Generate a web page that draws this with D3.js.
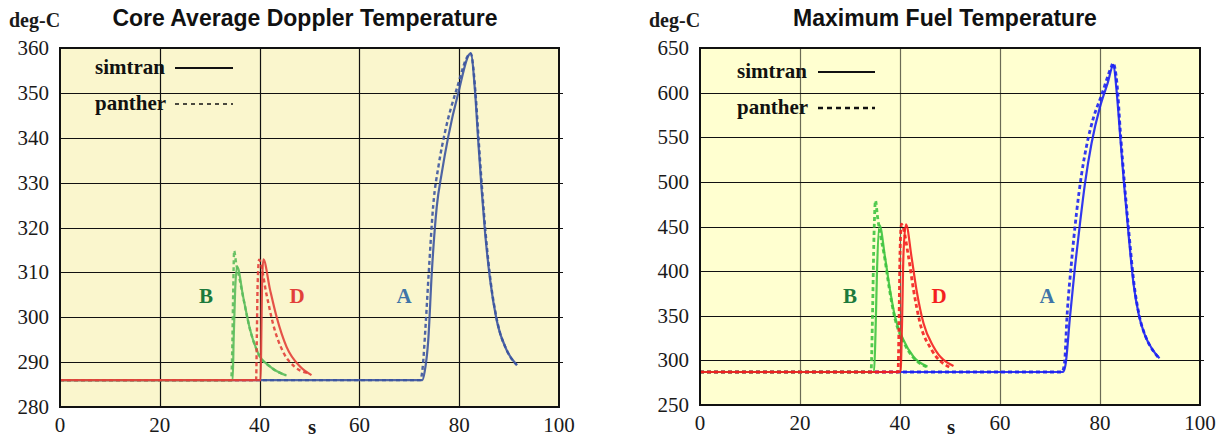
<!DOCTYPE html>
<html>
<head>
<meta charset="utf-8">
<script src="https://cdn.jsdelivr.net/npm/d3@7"></script>
<style>
  body { margin: 0; background: #fff; }
  svg { display: block; }
  .title { font-family: "Liberation Sans", Arial, sans-serif; font-weight: bold; font-size: 23px; fill: #111; }
  .serif { font-family: "Liberation Serif", "Times New Roman", serif; }
</style>
</head>
<body>
<svg id="chart" width="1227" height="439"></svg>
<script>
(function () {
    // axis ticks
    var timeTicks = [0, 20, 40, 60, 80, 100];
    var dopplerTicks = [280, 290, 300, 310, 320, 330, 340, 350, 360];
    var fuelTicks = [250, 300, 350, 400, 450, 500, 550, 600, 650];

    // core average doppler temperature, [s, deg-C]
    var dopA_simtran = [[0, 286], [72.6, 286], [73.1, 288], [73.8, 294.9], [74.5, 309.8], [75.5, 324.6], [76.5, 332.1],
        [77.8, 340.2], [79.8, 349.9], [82.3, 358.8], [83.2, 349.9], [83.8, 339.5], [84.5, 328.4], [85.2, 318.7],
        [86.2, 308.3], [87.5, 299.4], [89.5, 292.7], [91.5, 289.4]];
    var dopA_panther = [[0, 286], [72.2, 286], [72.7, 289], [73.2, 297], [73.9, 310], [74.8, 325], [75.9, 334],
        [77.2, 341.5], [79.4, 350.5], [82.3, 358.8], [83.3, 349.5], [83.9, 339.5], [84.6, 328.4], [85.3, 318.7],
        [86.3, 308], [87.6, 299.2], [89.6, 292.5], [91.6, 289.3]];
    var dopB_simtran = [[0, 286], [34.6, 286], [34.8, 295], [35.1, 306], [35.5, 311.3], [36.7, 304.6], [38.1, 297.2],
        [39.7, 292], [42.1, 289], [45.4, 287]];
    var dopB_panther = [[0, 286], [34.3, 286], [34.5, 292], [34.7, 305], [34.9, 314.8], [35.3, 312], [35.9, 309],
        [36.7, 304.5], [38.1, 297.2], [39.7, 292], [42.1, 289], [45.2, 287.1]];
    var dopD_simtran = [[0, 286], [40.2, 286], [40.35, 296], [40.5, 308], [40.75, 312.9], [42.1, 306.1], [43.4, 300.1],
        [45.4, 293.4], [48.1, 289], [50.4, 287.1]];
    var dopD_panther = [[0, 286], [39.3, 286], [39.45, 296], [39.6, 307], [39.9, 312.8], [41.4, 305], [42.7, 298.5],
        [44.7, 292.3], [47, 289], [49.8, 287.5]];

    // maximum fuel temperature, [s, deg-C]
    var fuelA_simtran = [[0, 287], [72.6, 287], [73.1, 295], [74, 349], [75, 405], [76, 453.6], [77, 498.4],
        [78.3, 543], [80, 584], [81.5, 610], [82.7, 631], [83.3, 603], [84, 554], [84.8, 498], [85.7, 442],
        [86.7, 386], [87.8, 350], [89, 328], [90.5, 312], [91.9, 302.3]];
    var fuelA_panther = [[0, 287], [72.4, 287], [72.9, 297], [73.4, 349], [74.3, 410], [75.3, 465], [76.3, 508],
        [77.3, 540], [78.7, 572], [80.3, 597], [82.2, 628], [82.6, 633], [83.4, 610], [84.1, 554], [84.9, 498],
        [85.8, 442], [86.8, 386], [87.9, 349], [89.1, 327], [90.6, 311], [91.9, 302]];
    var fuelB_simtran = [[0, 287], [34.8, 287], [35.1, 330], [35.4, 400], [35.9, 451.7], [37, 416], [38, 379],
        [39, 349], [40.7, 322.8], [42.7, 304], [45.5, 293]];
    var fuelB_panther = [[0, 287], [34.2, 287], [34.5, 350], [34.8, 440], [35.1, 479], [35.5, 461], [36.1, 440],
        [36.9, 416], [37.9, 379], [38.9, 349], [40.6, 322], [42.6, 303.5], [45.3, 292.8]];
    var fuelD_simtran = [[0, 287], [40.1, 287], [40.4, 340], [40.7, 420], [41.2, 452.5], [42.3, 416], [43.3, 379],
        [44.7, 341.5], [46.7, 315.3], [50.7, 293.7]];
    var fuelD_panther = [[0, 287], [39.6, 287], [39.8, 340], [40, 420], [40.3, 452.5], [41.7, 416], [42.7, 379],
        [44, 342], [46.3, 312], [50, 292]];

    var svg = d3.select('#chart');

    var panels = [
        {
            title: 'Core Average Doppler Temperature', titleX: 305,
            left: 60, right: 559, top: 48, bottom: 407,
            yDomain: [280, 360], yTicks: dopplerTicks,
            bg: '#faf6cd', vGrid: '#111', hGrid: '#111',
            colors: { A: '#3b54a0', B: '#5bbd5b', D: '#e2403a' },
            labelColors: { A: '#3f75a8', B: '#1c7a3c', D: '#e2403a' },
            series: [
                { key: 'A', simtran: dopA_simtran, panther: dopA_panther },
                { key: 'B', simtran: dopB_simtran, panther: dopB_panther },
                { key: 'D', simtran: dopD_simtran, panther: dopD_panther }
            ],
            letters: { B: [206, 303], D: [297, 303], A: [404, 303] },
            legendX: 95, legendLine: [175, 233], legendY: [68, 104],
            legendDash: '4,4', legendDashW: 1.5, dashW: 2.4,
            sX: 312
        },
        {
            title: 'Maximum Fuel Temperature', titleX: 945,
            left: 700, right: 1200, top: 48, bottom: 405,
            yDomain: [250, 650], yTicks: fuelTicks,
            bg: '#ffffd0', vGrid: '#6b6b55', hGrid: '#111',
            colors: { A: '#1c22f2', B: '#3fc43f', D: '#f41f1f' },
            labelColors: { A: '#3f75a8', B: '#1c7a3c', D: '#f41f1f' },
            series: [
                { key: 'A', simtran: fuelA_simtran, panther: fuelA_panther },
                { key: 'B', simtran: fuelB_simtran, panther: fuelB_panther },
                { key: 'D', simtran: fuelD_simtran, panther: fuelD_panther }
            ],
            letters: { B: [850, 303], D: [939, 303], A: [1047, 303] },
            legendX: 737, legendLine: [818, 875], legendY: [72, 108],
            legendDash: '5,4', legendDashW: 2.4, dashW: 2.8,
            sX: 951
        }
    ];

    panels.forEach(function (p) {
        var x = d3.scaleLinear().domain([0, 100]).range([p.left, p.right]);
        var y = d3.scaleLinear().domain(p.yDomain).range([p.bottom, p.top]);
        var g = svg.append('g');

        g.append('rect')
            .attr('x', p.left).attr('y', p.top)
            .attr('width', p.right - p.left).attr('height', p.bottom - p.top)
            .attr('fill', p.bg);

        // grid
        g.selectAll('.vgrid').data(timeTicks.slice(1, -1)).enter().append('line')
            .attr('x1', function (d) { return Math.round(x(d)) + 0.5; })
            .attr('x2', function (d) { return Math.round(x(d)) + 0.5; })
            .attr('y1', p.top).attr('y2', p.bottom)
            .attr('stroke', p.vGrid).attr('stroke-width', 1.2);
        g.selectAll('.hgrid').data(p.yTicks.slice(1, -1)).enter().append('line')
            .attr('y1', function (d) { return Math.round(y(d)) + 0.5; })
            .attr('y2', function (d) { return Math.round(y(d)) + 0.5; })
            .attr('x1', p.left).attr('x2', p.right + 4)
            .attr('stroke', p.hGrid).attr('stroke-width', 1.2);

        // curves
        var line = d3.line()
            .x(function (d) { return x(d[0]); })
            .y(function (d) { return y(d[1]); })
            .curve(d3.curveMonotoneX);
        p.series.forEach(function (s) {
            g.append('path').datum(s.panther)
                .attr('d', line).attr('fill', 'none')
                .attr('stroke', p.colors[s.key]).attr('stroke-width', p.dashW)
                .attr('stroke-dasharray', '4,3').attr('opacity', 0.9);
            g.append('path').datum(s.simtran)
                .attr('d', line).attr('fill', 'none')
                .attr('stroke', p.colors[s.key]).attr('stroke-width', 2.2)
                .attr('opacity', 0.9);
        });

        // frame
        g.append('rect')
            .attr('x', p.left).attr('y', p.top)
            .attr('width', p.right - p.left).attr('height', p.bottom - p.top)
            .attr('fill', 'none').attr('stroke', '#111').attr('stroke-width', 2);

        // axes labels
        g.selectAll('.ytick').data(p.yTicks).enter().append('text')
            .attr('class', 'serif')
            .attr('x', p.left - 11).attr('y', function (d) { return y(d) + 7; })
            .attr('text-anchor', 'end').attr('font-size', 21).attr('fill', '#1a1a1a')
            .text(function (d) { return d; });
        g.selectAll('.xtick').data(timeTicks).enter().append('text')
            .attr('class', 'serif')
            .attr('x', function (d) { return x(d); }).attr('y', p.bottom + 25)
            .attr('text-anchor', 'middle').attr('font-size', 21).attr('fill', '#1a1a1a')
            .text(function (d) { return d; });
        g.append('text').attr('class', 'serif')
            .attr('x', p.sX).attr('y', 434).attr('text-anchor', 'middle')
            .attr('font-size', 21).attr('font-weight', 'bold').attr('fill', '#1a1a1a')
            .text('s');
        g.append('text').attr('class', 'serif')
            .attr('x', p.left - 51).attr('y', 27)
            .attr('font-size', 20).attr('font-weight', 'bold').attr('fill', '#1a1a1a')
            .text('deg-C');
        g.append('text').attr('class', 'title')
            .attr('x', p.titleX).attr('y', 26).attr('text-anchor', 'middle')
            .text(p.title);

        // curve letters
        Object.keys(p.letters).forEach(function (k) {
            g.append('text').attr('class', 'serif')
                .attr('x', p.letters[k][0]).attr('y', p.letters[k][1])
                .attr('text-anchor', 'middle').attr('font-size', 21).attr('font-weight', 'bold')
                .attr('fill', p.labelColors[k]).text(k);
        });

        // legend
        ['simtran', 'panther'].forEach(function (name, i) {
            var ly = p.legendY[i];
            g.append('text').attr('class', 'serif')
                .attr('x', p.legendX).attr('y', ly + 6)
                .attr('font-size', 21).attr('font-weight', 'bold').attr('fill', '#111')
                .text(name);
            g.append('line')
                .attr('x1', p.legendLine[0]).attr('x2', p.legendLine[1])
                .attr('y1', ly).attr('y2', ly)
                .attr('stroke', '#111')
                .attr('stroke-width', i === 0 ? 2 : p.legendDashW)
                .attr('stroke-dasharray', i === 0 ? null : p.legendDash);
        });
    });
})();
</script>
</body>
</html>
